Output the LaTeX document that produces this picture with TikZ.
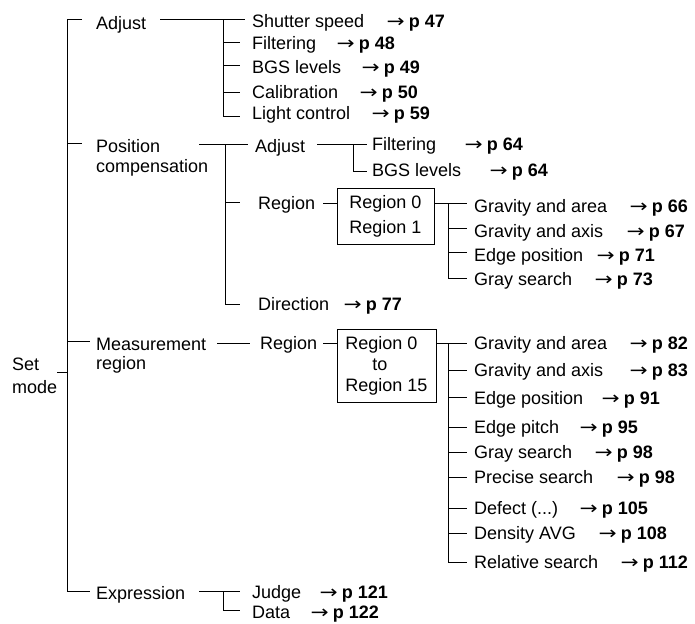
\documentclass[tikz,border=0pt]{standalone}
\usepackage{fontspec}
\setmainfont{Liberation Sans}
\newfontfamily\arrowfont{DejaVu Sans}
\newcommand{\twoline}[2]{\begin{tabular}[t]{@{}l@{}}#1\\#2\end{tabular}}
\newcommand{\pref}[1]{\scalebox{1.2}[1]{\arrowfont →}\hspace{4pt}\textbf{p #1}}
\begin{document}
\begin{tikzpicture}[x=1pt,y=-1pt,
  lbl/.style={anchor=base west, inner sep=0pt, font=\fontsize{18}{20}\selectfont},
  ref/.style={anchor=base east, inner sep=0pt, font=\fontsize{18}{20}\selectfont},
  regbox/.style={draw, line width=1pt, inner sep=0pt, align=left},
  ln/.style={line width=1pt}]
\useasboundingbox (0,0) rectangle (695,623);
% ---- root
\node[lbl, font=\fontsize{18}{23}\selectfont] (setm) at (12,370.4) {\twoline{Set}{mode}};
% ---- level 1
\node[lbl] (adj) at (96,29.4) {Adjust};
\node[lbl] (pos) at (96,152.4) {\twoline{Position}{compensation}};
\node[lbl, font=\fontsize{18}{19.5}\selectfont] (meas) at (96,350.4) {\twoline{Measurement}{region}};
\node[lbl] (expr) at (96,599.4) {Expression};
% ---- Adjust children
\node[lbl] (sh) at (252,27.4) {Shutter speed};
\node[ref] (shr) at (445,27.4) {\pref{47}};
\node[lbl] (fi1) at (252,49.4) {Filtering};
\node[ref] (fi1r) at (395,49.4) {\pref{48}};
\node[lbl] (bgs1) at (252,73.4) {BGS levels};
\node[ref] (bgs1r) at (420,73.4) {\pref{49}};
\node[lbl] (cal) at (252,98.4) {Calibration};
\node[ref] (calr) at (418,98.4) {\pref{50}};
\node[lbl] (lc) at (252,119.4) {Light control};
\node[ref] (lcr) at (430,119.4) {\pref{59}};
% ---- Position compensation children
\node[lbl] (adj2) at (255,152.4) {Adjust};
\node[lbl] (fi2) at (372,150.4) {Filtering};
\node[ref] (fi2r) at (523,150.4) {\pref{64}};
\node[lbl] (bgs2) at (372,176.4) {BGS levels};
\node[ref] (bgs2r) at (548,176.4) {\pref{64}};
\node[lbl] (reg1) at (258,209.4) {Region};
\node[regbox, minimum width=97pt, minimum height=56pt, font=\fontsize{18}{25}\selectfont] (box1) at (385.5,216) {Region 0\\Region 1};
\node[lbl] (g1) at (474,212.4) {Gravity and area};
\node[ref] (g1r) at (688,212.4) {\pref{66}};
\node[lbl] (g2) at (474,237.4) {Gravity and axis};
\node[ref] (g2r) at (685,237.4) {\pref{67}};
\node[lbl] (g3) at (474,261.4) {Edge position};
\node[ref] (g3r) at (655,261.4) {\pref{71}};
\node[lbl] (g4) at (474,285.4) {Gray search};
\node[ref] (g4r) at (653,285.4) {\pref{73}};
\node[lbl] (dir) at (258,310.4) {Direction};
\node[ref] (dirr) at (402,310.4) {\pref{77}};
% ---- Measurement region children
\node[lbl] (reg2) at (260,349.4) {Region};
\node[regbox, minimum width=99pt, minimum height=73pt, font=\fontsize{18}{21}\selectfont] (box2) at (386.5,365.5) {Region 0\\\hspace*{27pt}to\\Region 15};
\node[lbl] (m1) at (474,349.4) {Gravity and area};
\node[ref] (m1r) at (688,349.4) {\pref{82}};
\node[lbl] (m2) at (474,376.4) {Gravity and axis};
\node[ref] (m2r) at (688,376.4) {\pref{83}};
\node[lbl] (m3) at (474,404.4) {Edge position};
\node[ref] (m3r) at (660,404.4) {\pref{91}};
\node[lbl] (m4) at (474,433.4) {Edge pitch};
\node[ref] (m4r) at (638,433.4) {\pref{95}};
\node[lbl] (m5) at (474,458.4) {Gray search};
\node[ref] (m5r) at (653,458.4) {\pref{98}};
\node[lbl] (m6) at (474,483.4) {Precise search};
\node[ref] (m6r) at (675,483.4) {\pref{98}};
\node[lbl] (m7) at (474,514.4) {Defect (...)};
\node[ref] (m7r) at (648,514.4) {\pref{105}};
\node[lbl] (m8) at (474,539.4) {Density AVG};
\node[ref] (m8r) at (667,539.4) {\pref{108}};
\node[lbl] (m9) at (474,568.4) {Relative search};
\node[ref] (m9r) at (688,568.4) {\pref{112}};
% ---- Expression children
\node[lbl] (jd) at (252,598.4) {Judge};
\node[ref] (jdr) at (388,598.4) {\pref{121}};
\node[lbl] (dt) at (252,618.4) {Data};
\node[ref] (dtr) at (379,618.4) {\pref{122}};
% ---- connectors
\draw[ln] (57,372) -- (67,372);
\draw[ln] (82,20) -| (67,591) -- (90,591);
\draw[ln] (67,143) -- (82,143);
\draw[ln] (67,341) -- (90,341);
% Adjust
\draw[ln] (160,20) -- (245,20);
\draw[ln] (223,20) |- (240,116);
\foreach \yy in {43,66,93} \draw[ln] (223,\yy) -- (240,\yy);
% Position compensation
\draw[ln] (199,144) -- (248,144);
\draw[ln] (225,144) |- (240,304);
\draw[ln] (225,202) -- (240,202);
\draw[ln] (317,144) -- (367,144);
\draw[ln] (353,144) |- (367,171);
\draw[ln] (323,203) -- (box1.west |- 0,203);
\draw[ln] (box1.east |- 0,203) -- (467,203);
\draw[ln] (448,203) |- (467,278);
\foreach \yy in {228,252} \draw[ln] (448,\yy) -- (467,\yy);
% Measurement region
\draw[ln] (217,343) -- (250,343);
\draw[ln] (323,343) -- (box2.west |- 0,343);
\draw[ln] (box2.east |- 0,343) -- (467,343);
\draw[ln] (448,343) |- (467,562);
\foreach \yy in {370,397,427,452,477,508,533} \draw[ln] (448,\yy) -- (467,\yy);
% Expression
\draw[ln] (199,591) -- (240,591);
\draw[ln] (223,591) |- (240,610);
\end{tikzpicture}
\end{document}
